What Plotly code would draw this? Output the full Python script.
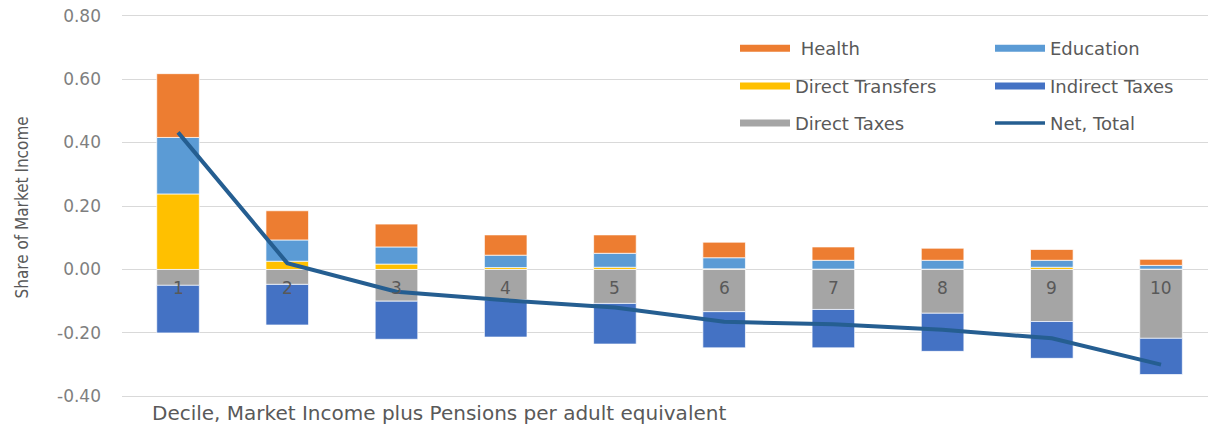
import plotly.graph_objects as go

deciles = ["1", "2", "3", "4", "5", "6", "7", "8", "9", "10"]
health = [0.201, 0.092, 0.072, 0.064, 0.058, 0.049, 0.042, 0.038, 0.034, 0.019]
education = [0.178, 0.067, 0.054, 0.039, 0.044, 0.035, 0.028, 0.028, 0.022, 0.012]
direct_transfers = [0.238, 0.026, 0.017, 0.006, 0.007, 0.002, 0.001, 0.001, 0.007, 0.001]
direct_taxes = [-0.050, -0.047, -0.100, -0.096, -0.107, -0.133, -0.126, -0.138, -0.164, -0.217]
indirect_taxes = [-0.150, -0.128, -0.120, -0.117, -0.128, -0.114, -0.121, -0.120, -0.116, -0.114]
net_total = [0.432, 0.020, -0.070, -0.097, -0.120, -0.165, -0.173, -0.190, -0.217, -0.300]
y_tick_vals = [-0.40, -0.20, 0.00, 0.20, 0.40, 0.60, 0.80]
y_tick_text = ["-0.40", "-0.20", "0.00", "0.20", "0.40", "0.60", "0.80"]

C_HEALTH = "#ED7D31"
C_EDU = "#5B9BD5"
C_DTR = "#FFC000"
C_ITAX = "#4472C4"
C_DTAX = "#A5A5A5"
C_NET = "#255E91"

FONT = "DejaVu Sans"
GRAY = "#595959"

FIG_W, FIG_H = 1208, 431
plot_top, plot_bot, plot_l, plot_r = 16 - 1.6, 396 + 1.6, 122, 1208
H = plot_bot - plot_top
W = plot_r - plot_l


def px(xp):
    return (xp - plot_l) / W


def py(yp):
    return (plot_bot - yp) / H


fig = go.Figure()
edge = dict(color="rgba(255,255,255,0.7)", width=1)
for name, vals, col in [
    ("Direct Transfers", direct_transfers, C_DTR),
    ("Education", education, C_EDU),
    ("Health", health, C_HEALTH),
    ("Direct Taxes", direct_taxes, C_DTAX),
    ("Indirect Taxes", indirect_taxes, C_ITAX),
]:
    fig.add_trace(go.Bar(x=deciles, y=vals, name=name, marker=dict(color=col, line=edge),
                         showlegend=False))

fig.add_trace(go.Scatter(x=deciles, y=net_total, mode="lines", name="Net, Total",
                         line=dict(color=C_NET, width=4), showlegend=False))

# legend entries (3 rows x 2 columns)
rows = [
    [("\u00a0Health", C_HEALTH, 7), ("Education", C_EDU, 7)],
    [("Direct Transfers", C_DTR, 7), ("Indirect Taxes", C_ITAX, 7)],
    [("Direct Taxes", C_DTAX, 7), ("Net, Total", C_NET, 3.5)],
]
legend_names = ["legend", "legend2", "legend3"]
row_y = [49, 86.5, 123.5]
for lg, row in zip(legend_names, rows):
    for label, col, w in row:
        fig.add_trace(go.Scatter(x=[None], y=[None], mode="lines", name=label,
                                 line=dict(color=col, width=w), legend=lg, showlegend=True,
                                 hoverinfo="skip"))

legend_common = dict(orientation="h", entrywidth=190, entrywidthmode="pixels",
                     font=dict(family=FONT, size=18, color=GRAY), bgcolor="rgba(0,0,0,0)",
                     xanchor="left", yanchor="middle", itemwidth=50)
layout_legends = {}
for lg, ry in zip(legend_names, row_y):
    layout_legends[lg] = dict(legend_common, x=px(735), y=py(ry))

annotations = []
for i, d in enumerate(deciles):
    annotations.append(dict(x=i, y=0, xref="x", yref="y", text=d, showarrow=False,
                            yanchor="middle", yshift=-19,
                            font=dict(family=FONT, size=17, color=GRAY)))
annotations.append(dict(x=px(150), y=py(413), xref="paper", yref="paper",
                        text="Decile, Market Income plus Pensions per adult equivalent",
                        showarrow=False, xanchor="left", yanchor="middle",
                        font=dict(family=FONT, size=20, color=GRAY)))
annotations.append(dict(x=px(22), y=py(207.5), xref="paper", yref="paper",
                        text="Share of Market Income", textangle=-90, showarrow=False,
                        xanchor="center", yanchor="middle",
                        font=dict(family="Liberation Sans Narrow, DejaVu Sans Condensed, Liberation Sans",
                                  size=17, color=GRAY)))

fig.update_layout(
    width=FIG_W, height=FIG_H,
    margin=dict(l=plot_l, r=FIG_W - plot_r, t=plot_top, b=FIG_H - plot_bot, autoexpand=False),
    paper_bgcolor="white", plot_bgcolor="white",
    barmode="relative", bargap=0.61,
    annotations=annotations,
    **layout_legends,
)
fig.update_xaxes(type="category", range=[-0.513, 9.43], showticklabels=False, showgrid=False,
                 zeroline=False, showline=False, ticks="")
fig.update_yaxes(range=[-0.405, 0.805], tickmode="array", tickvals=y_tick_vals, ticktext=y_tick_text,
                 gridcolor="#D9D9D9", gridwidth=1, zeroline=True, zerolinecolor="#D9D9D9",
                 zerolinewidth=1, showline=False, ticks="", ticklabelstandoff=20,
                 ticklabeloverflow="allow",
                 tickfont=dict(family=FONT, size=17, color="#7F7F7F"))

fig.write_html("out.html", config={"displayModeBar": False},
               post_script="document.body.style.margin='0';document.body.style.overflow='hidden';")
